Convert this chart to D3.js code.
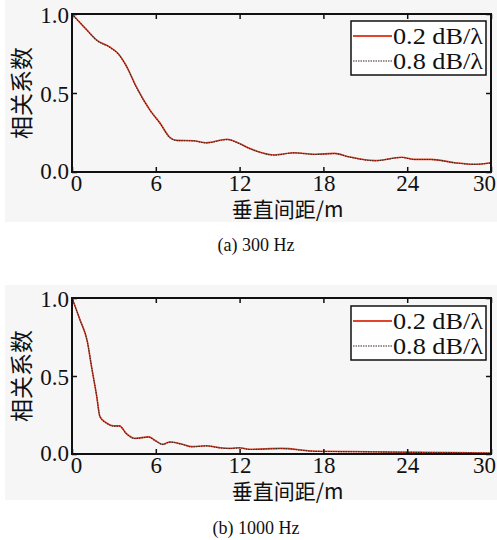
<!DOCTYPE html>
<html>
<head>
<meta charset="utf-8">
<script src="https://cdn.jsdelivr.net/npm/d3@7"></script>
<style>
  body { margin: 0; background: #fff; }
  svg { display: block; }
</style>
</head>
<body>
<div id="chart"></div>
<script>
// distance (m) and correlation
const x300 = [0, 1.05, 1.77, 2.72, 3.3, 3.9, 4.6, 5.6, 6.3, 7.0, 7.5, 8.7, 9.6, 11.1, 12.0, 12.7, 13.3, 14.5, 15.9, 17.4, 18.8, 19.8, 21.7, 23.6, 24.5, 25.7, 27.4, 28.8, 30];
const r300a = [1.0, 0.90, 0.835, 0.79, 0.75, 0.67, 0.54, 0.39, 0.31, 0.22, 0.20, 0.198, 0.185, 0.207, 0.18, 0.15, 0.13, 0.108, 0.122, 0.112, 0.118, 0.097, 0.072, 0.093, 0.08, 0.08, 0.059, 0.049, 0.059];
const r300b = [1.0, 0.90, 0.833, 0.788, 0.748, 0.668, 0.538, 0.388, 0.308, 0.218, 0.199, 0.197, 0.184, 0.205, 0.179, 0.149, 0.129, 0.107, 0.121, 0.111, 0.117, 0.096, 0.071, 0.092, 0.079, 0.079, 0.058, 0.048, 0.058];

const x1000 = [0, 0.57, 1.1, 1.4, 1.77, 2.0, 2.5, 2.96, 3.4, 3.9, 4.5, 5.5, 5.9, 6.5, 7.0, 7.85, 8.6, 9.6, 10.6, 11.3, 12.0, 12.7, 15.0, 17.4, 19.8, 23.4, 27.0, 30];
const r1000a = [1.0, 0.86, 0.72, 0.56, 0.37, 0.24, 0.197, 0.18, 0.18, 0.13, 0.10, 0.11, 0.09, 0.062, 0.077, 0.064, 0.047, 0.053, 0.04, 0.036, 0.04, 0.03, 0.036, 0.018, 0.016, 0.012, 0.01, 0.006];
const r1000b = [1.0, 0.86, 0.719, 0.559, 0.369, 0.239, 0.196, 0.179, 0.179, 0.129, 0.099, 0.109, 0.089, 0.061, 0.076, 0.063, 0.046, 0.052, 0.039, 0.035, 0.039, 0.029, 0.035, 0.017, 0.015, 0.011, 0.009, 0.005];

const xTicks = [0, 6, 12, 18, 24, 30];
const yTicks = [0, 0.5, 1.0];
const seriesNames = ["0.2 dB/\u03bb", "0.8 dB/\u03bb"];
const seriesColors = ["#e0442a", "#3a2622"];
const captions = ["(a) 300 Hz", "(b) 1000 Hz"];
const xTitle = "垂直间距/m";
const yTitle = "相关系数";

const W = 497, H = 540;
const svg = d3.select("#chart").append("svg")
    .attr("width", W).attr("height", H);

const serif = "'Liberation Serif', 'Times New Roman', serif";
const cjk = "'Noto Sans CJK SC', sans-serif";

function panel(opt) {
    const {top, bottom, bgTop, bgBottom, xs, ya, yb, caption, capY, legTop} = opt;
    const left = 72, right = 491;

    svg.append("rect")
        .attr("x", 5).attr("y", bgTop)
        .attr("width", W - 5).attr("height", bgBottom - bgTop)
        .attr("fill", "#f6f6f6");

    const x = d3.scaleLinear().domain([0, 30]).range([left, right]);
    const y = d3.scaleLinear().domain([0, 1]).range([bottom, top]);

    const g = svg.append("g");

    const line = d3.line().x((d, i) => x(xs[i])).y(d => y(d)).curve(d3.curveMonotoneX);

    g.append("path").datum(ya)
        .attr("fill", "none").attr("stroke", seriesColors[0])
        .attr("stroke-width", 1.6).attr("d", line);
    g.append("path").datum(yb)
        .attr("fill", "none").attr("stroke", seriesColors[1])
        .attr("stroke-width", 1.1).attr("stroke-dasharray", "1.5,1")
        .attr("d", line);

    // axes with inward ticks
    const ax = g.append("g").attr("transform", `translate(0,${bottom})`)
        .call(d3.axisBottom(x).tickValues(xTicks).tickSize(-5).tickPadding(7).tickFormat(d3.format("d")));
    const axTop = g.append("g").attr("transform", `translate(0,${top})`)
        .call(d3.axisTop(x).tickValues(xTicks).tickSize(-5).tickFormat(""));
    const ay = g.append("g").attr("transform", `translate(${left},0)`)
        .call(d3.axisLeft(y).tickValues(yTicks).tickSize(-5).tickPadding(3).tickFormat(d3.format(".1f")));
    const ayR = g.append("g").attr("transform", `translate(${right},0)`)
        .call(d3.axisRight(y).tickValues(yTicks).tickSize(-5).tickFormat(""));

    [ax, axTop, ay, ayR].forEach(a => {
        a.select(".domain").remove();
        a.selectAll(".tick line").attr("stroke", "#111").attr("stroke-width", 1.5);
    });
    ax.selectAll("text").attr("font-family", serif).attr("font-size", 23).attr("fill", "#111")
        .attr("dy", "0.5em")
        .attr("dx", d => d === 0 ? 4 : d === 30 ? -7 : 0);
    ay.selectAll("text").attr("font-family", serif).attr("font-size", 23).attr("fill", "#111")
        .attr("dy", d => d === 0 ? "0.3em" : "0.36em");

    g.append("rect")
        .attr("x", left).attr("y", top)
        .attr("width", right - left).attr("height", bottom - top)
        .attr("fill", "none").attr("stroke", "#111").attr("stroke-width", 2);

    // legend
    const lx = 351, lw = 135, lh = 54;
    const leg = g.append("g").attr("transform", `translate(${lx},${legTop})`);
    leg.append("rect").attr("width", lw).attr("height", lh)
        .attr("fill", "#fff").attr("stroke", "#111").attr("stroke-width", 1.5);
    seriesNames.forEach((name, i) => {
        const cy = 15 + i * 25;
        leg.append("line")
            .attr("x1", 2).attr("x2", 41).attr("y1", cy).attr("y2", cy)
            .attr("stroke", seriesColors[i])
            .attr("stroke-width", i === 0 ? 2 : 1.2)
            .attr("stroke-dasharray", i === 0 ? null : "1.5,1");
        leg.append("text")
            .attr("x", 42).attr("y", cy).attr("dy", "0.35em")
            .attr("font-family", serif).attr("font-size", 24).attr("fill", "#111")
            .attr("textLength", 90).attr("lengthAdjust", "spacingAndGlyphs")
            .text(name);
    });

    svg.append("text")
        .attr("x", (left + right) / 2 + 6).attr("y", bottom + 38)
        .attr("text-anchor", "middle").attr("dy", "0.35em")
        .attr("font-family", cjk).attr("font-size", 21).attr("fill", "#111")
        .text(xTitle);

    svg.append("text")
        .attr("transform", `translate(22,${(top + bottom) / 2}) rotate(-90)`)
        .attr("text-anchor", "middle").attr("dy", "0.35em")
        .attr("font-family", cjk).attr("font-size", 23).attr("fill", "#111")
        .text(yTitle);

    svg.append("text")
        .attr("x", 256).attr("y", capY)
        .attr("text-anchor", "middle").attr("dy", "0.35em")
        .attr("font-family", serif).attr("font-size", 18).attr("fill", "#111")
        .text(caption);
}

panel({top: 14, bottom: 172, bgTop: 0, bgBottom: 222, xs: x300, ya: r300a, yb: r300b,
       caption: captions[0], capY: 245, legTop: 21});
panel({top: 298, bottom: 454, bgTop: 285, bgBottom: 500, xs: x1000, ya: r1000a, yb: r1000b,
       caption: captions[1], capY: 528, legTop: 306});
</script>
</body>
</html>
